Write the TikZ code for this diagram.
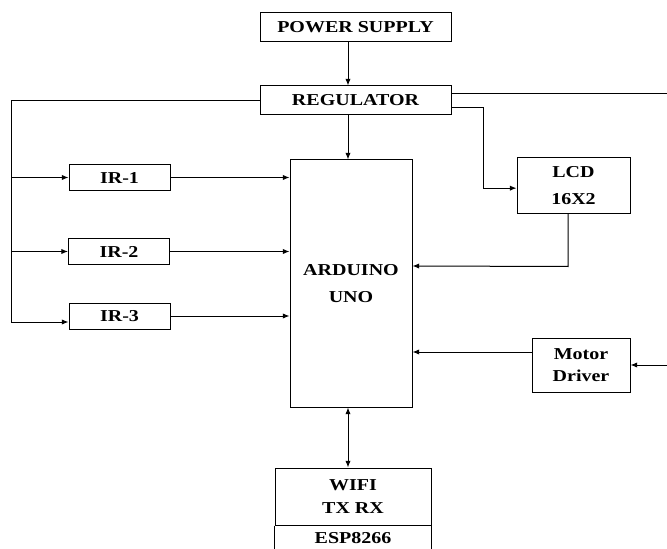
\documentclass[tikz,border=0pt]{standalone}
\usepackage{fontspec}
\setmainfont{Liberation Serif}[FakeStretch=1.2]
\usetikzlibrary{positioning}
\usetikzlibrary{arrows.meta}

\begin{document}
\begin{tikzpicture}[
            x = 0.75pt, y = -0.75pt, % one unit per pixel
            > = {Latex[length=5pt,width=4pt]}, % arrow head style
            line width = 0.75pt,
            font = \fontsize{12.5}{15}\selectfont\bfseries
        ]

        \tikzstyle{block}=[
            draw,
            line width = 0.75pt,
            inner sep = 0pt,
            align = center
        ]

        \clip (0,0) rectangle (667,549);

        % helper lines
        \coordinate (bus) at (348,0);
        \coordinate (lbus) at (11,0);
        \coordinate (rbus) at (483,0);
        \coordinate (redge) at (667,0);

        % supply
        \node[block, minimum width=143.25pt, minimum height=21.75pt] (PS) at (355.5,27.5) {POWER SUPPLY};
        \node[block, minimum width=143.25pt, minimum height=21.75pt] (REG) at (355.5,100.5) {REGULATOR};

        \path[->] (PS.south -| bus) edge (REG.north -| bus);

        % controller
        \node[block, minimum width=91.5pt, minimum height=185.25pt] (ARD) at (351,283.5) {ARDUINO\\[5pt]UNO};

        \path[->] (REG.south -| bus) edge (ARD.north -| bus);

        % sensors
        \node[block, minimum width=75.75pt, minimum height=19.5pt] (IR1) at (119.5,177.5) {IR-1};
        \node[block, minimum width=75.75pt, minimum height=19.5pt] (IR2) at (119,251.5) {IR-2};
        \node[block, minimum width=75.75pt, minimum height=19.5pt] (IR3) at (119.5,316) {IR-3};

        \draw[->] (REG.west) -- (REG.west -| lbus) |- ([yshift=-4.5pt]IR3.west);
        \draw[->] (IR1.west -| lbus) -- (IR1.west);
        \draw[->] (IR2.west -| lbus) -- (IR2.west);

        \draw[->] (IR1.east) -- (IR1.east -| ARD.west);
        \draw[->] (IR2.east) -- (IR2.east -| ARD.west);
        \draw[->] (IR3.east) -- (IR3.east -| ARD.west);

        % display
        \node[block, minimum width=84.75pt, minimum height=41.25pt] (LCD) at (573.5,185.5) {LCD\\[5pt]16X2};

        \draw ([yshift=4.9pt]REG.east) -- ([yshift=4.9pt]REG.east -| redge);
        \draw[->] ([yshift=-4.9pt]REG.east) -| ([yshift=-4.9pt]REG.east -| rbus) |- ([yshift=-2pt]LCD.west);
        \draw[->] ([xshift=-4pt]LCD.south) -- ++(0,53) -- (ARD.east |- 0,266);

        % motor
        \node[block, minimum width=73.5pt, minimum height=40.5pt] (MD) at (581,365) {Motor\\[2pt]Driver};

        \draw[->] ([yshift=9.75pt]MD.west) -- ([yshift=9.75pt]MD.west -| ARD.east);
        \draw[->] (MD.east -| redge) -- (MD.east);

        % wifi module
        \node[block, minimum width=117pt, minimum height=42.75pt] (WIFI) at (353,496.5) {WIFI\\[2pt]TX RX};
        \node[below=0pt of WIFI, minimum height=18pt, inner sep=0pt] (ESP) {ESP8266};
        \draw (WIFI.south west) -- ++(0,40);
        \draw (WIFI.south east) -- ++(0,40);

        \path[<->] (ARD.south -| bus) edge (WIFI.north -| bus);

\end{tikzpicture}
\end{document}
